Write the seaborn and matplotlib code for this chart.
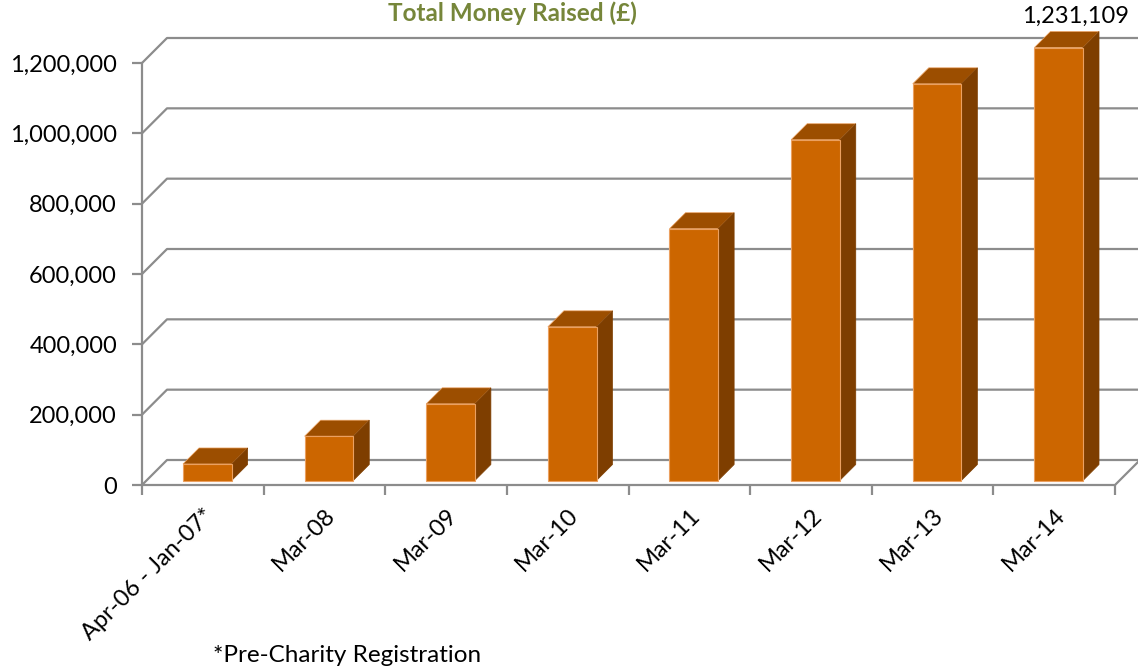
import numpy as np
import matplotlib
matplotlib.use("Agg")
import matplotlib.pyplot as plt
import seaborn as sns
from matplotlib.patches import Polygon
from matplotlib.ticker import FuncFormatter

# data
periods = ["Apr-06 - Jan-07*", "Mar-08", "Mar-09", "Mar-10",
           "Mar-11", "Mar-12", "Mar-13", "Mar-14"]
raised = [47000, 126000, 218000, 437000, 716000, 969000, 1128000, 1231109]
y_ticks = [0, 200000, 400000, 600000, 800000, 1000000, 1200000]

sns.set_theme(style="white")
plt.rcParams['font.family'] = ['Lato', 'DejaVu Sans']

front_c = "#CC6600"
top_c = "#9C4E00"
side_c = "#7E3E00"
edge_c = "#EBA060"
grid_c = "#8C8C8C"

W, H = 1138, 670
fig = plt.figure(figsize=(W / 100, H / 100), dpi=100)
ax = fig.add_axes([142 / W, (H - 485) / H, 973 / W, 422 / H])

sns.barplot(x=periods, y=raised, color=front_c, width=0.4, saturation=1,
            edgecolor=edge_c, linewidth=0.8, ax=ax, zorder=4)
ax.set_xlim(-0.5, 7.5)
ax.set_ylim(0, 1200000)

# pixel -> data units, for the fake depth
px_x = 8 / 973
px_y = 1200000 / 422
depth = 25          # back wall offset in px
f0, f1 = 4.5, 20.5  # bar front / back depth in px

# 3d look: shift front faces back a bit, add tops and sides
for p in ax.patches:
    x0, w, h = p.get_x(), p.get_width(), p.get_height()
    a, b = f0 * px_x, f0 * px_y
    c, d = f1 * px_x, f1 * px_y
    p.set_x(x0 + a)
    p.set_y(b)
    p.set_clip_on(False)
    top = Polygon([(x0 + a, h + b), (x0 + w + a, h + b),
                   (x0 + w + c, h + d), (x0 + c, h + d)],
                  closed=True, facecolor=top_c, edgecolor=edge_c,
                  linewidth=0.5, zorder=3, clip_on=False)
    side = Polygon([(x0 + w + a, b), (x0 + w + c, d),
                    (x0 + w + c, h + d), (x0 + w + a, h + b)],
                   closed=True, facecolor=side_c, edgecolor=side_c,
                   linewidth=0.5, zorder=3, clip_on=False)
    ax.add_patch(top)
    ax.add_patch(side)

# walls / gridlines
dx, dy = depth * px_x, depth * px_y
for v in y_ticks:
    ax.plot([-0.5, -0.5 + dx, 7.5 + dx], [v, v + dy, v + dy],
            color=grid_c, lw=1.6, zorder=1, clip_on=False)
ax.plot([-0.5, 7.5, 7.5 + dx], [0, 0, dy], color=grid_c, lw=1.6, zorder=2, clip_on=False)
ax.plot([-0.5, -0.5], [0, 1200000], color=grid_c, lw=1.6, zorder=2, clip_on=False)

for s in ax.spines.values():
    s.set_visible(False)

ax.set_yticks(y_ticks)
ax.yaxis.set_major_formatter(FuncFormatter(lambda v, pos: f"{v:,.0f}"))
ax.tick_params(axis='y', left=True, length=7, width=1.6, color=grid_c,
               pad=11, labelsize=17, labelcolor='black')

ax.set_xticks(np.arange(-0.5, 8, 1), minor=True)
ax.tick_params(axis='x', which='minor', bottom=True, length=7, width=1.6,
               color=grid_c, direction='out')
ax.tick_params(axis='x', which='major', length=0, pad=14, labelsize=17,
               labelcolor='black')
plt.setp(ax.get_xticklabels(), rotation=45, ha='right', rotation_mode='anchor')
ax.set_xlabel("")
ax.set_ylabel("")

# value label on the last bar
last = ax.patches[len(periods) - 1]
lx = last.get_x() + last.get_width() / 2 + (f1 - f0) / 2 * px_x
ly = last.get_y() + last.get_height() + (f1 - f0) * px_y
ax.annotate(f"{raised[-1]:,}", xy=(lx, ly), xytext=(6, 6.5), textcoords='offset points',
            ha='center', va='baseline', fontsize=17, color='black', annotation_clip=False)

fig.text(512 / W, 1 - 1 / H, "Total Money Raised (£)", color="#76863A",
         fontweight='bold', fontsize=17.5, ha='center', va='top')
fig.text(213 / W, 1 - 655 / H, "*Pre-Charity Registration", fontsize=17.5,
         ha='left', va='center', color='black')

fig.savefig("out.png", dpi=100)
